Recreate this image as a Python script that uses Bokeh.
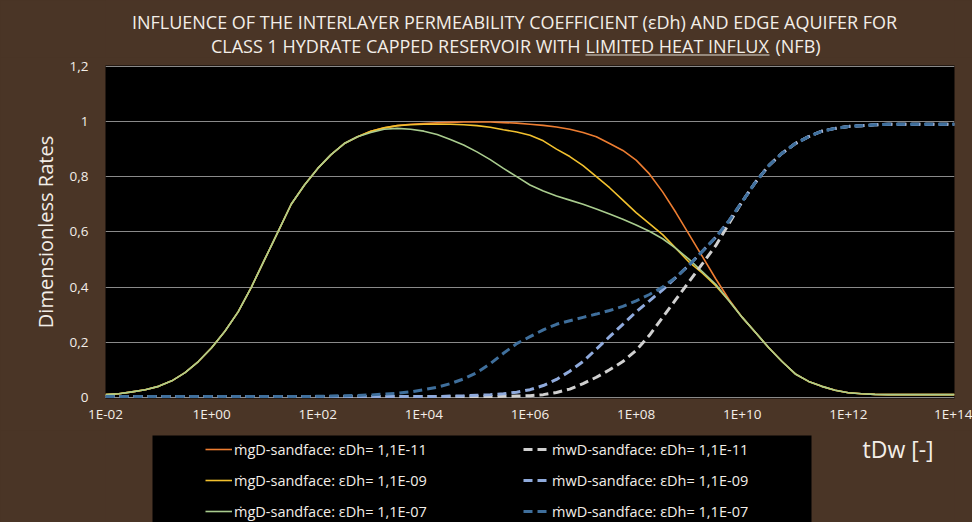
from bokeh.plotting import figure
from bokeh.layouts import column
from bokeh.models import (FixedTicker, Label, Legend, LegendItem, BoxAnnotation, Range1d)
from bokeh.embed import file_html
from bokeh.resources import INLINE

FONT = "Open Sans"
TXT = "#F3EEE8"
WOOD = "#4A3526"
W = 972
LEFT, RIGHT = 105, 954          # plot-area edges shared by all three strips

# ---------------- data (quarter-decade steps) ----------------
TDW = [1e-2, 1.78e-2, 3.16e-2, 5.62e-2,
       1e-1, 1.78e-1, 3.16e-1, 5.62e-1,
       1e0, 1.78e0, 3.16e0, 5.62e0,
       1e1, 1.78e1, 3.16e1, 5.62e1,
       1e2, 1.78e2, 3.16e2, 5.62e2,
       1e3, 1.78e3, 3.16e3, 5.62e3,
       1e4, 1.78e4, 3.16e4, 5.62e4,
       1e5, 1.78e5, 3.16e5, 5.62e5,
       1e6, 1.78e6, 3.16e6, 5.62e6,
       1e7, 1.78e7, 3.16e7, 5.62e7,
       1e8, 1.78e8, 3.16e8, 5.62e8,
       1e9, 1.78e9, 3.16e9, 5.62e9,
       1e10, 1.78e10, 3.16e10, 5.62e10,
       1e11, 1.78e11, 3.16e11, 5.62e11,
       1e12, 1.78e12, 3.16e12, 5.62e12,
       1e13, 1.78e13, 3.16e13, 5.62e13,
       1e14]

GAS_E11 = [0.01, 0.013, 0.02, 0.028,
           0.04, 0.06, 0.09, 0.13,
           0.18, 0.24, 0.31, 0.40,
           0.50, 0.60, 0.70, 0.77,
           0.83, 0.88, 0.92, 0.945,
           0.965, 0.977, 0.985, 0.99,
           0.993, 0.995, 0.997, 0.998,
           0.998, 0.998, 0.996, 0.994,
           0.99, 0.986, 0.98, 0.972,
           0.96, 0.945, 0.92, 0.895,
           0.86, 0.81, 0.745, 0.67,
           0.59, 0.51, 0.43, 0.355,
           0.29, 0.235, 0.18, 0.13,
           0.085, 0.058, 0.04, 0.026,
           0.017, 0.013, 0.011, 0.01,
           0.01, 0.01, 0.01, 0.01,
           0.01]
GAS_E09 = [0.01, 0.013, 0.02, 0.028,
           0.04, 0.06, 0.09, 0.13,
           0.18, 0.24, 0.31, 0.40,
           0.50, 0.60, 0.70, 0.77,
           0.83, 0.88, 0.92, 0.945,
           0.965, 0.977, 0.985, 0.988,
           0.99, 0.99, 0.99, 0.988,
           0.985, 0.979, 0.97, 0.962,
           0.95, 0.93, 0.90, 0.873,
           0.84, 0.80, 0.76, 0.715,
           0.67, 0.63, 0.59, 0.54,
           0.49, 0.45, 0.405, 0.35,
           0.29, 0.235, 0.18, 0.13,
           0.085, 0.058, 0.04, 0.026,
           0.017, 0.013, 0.011, 0.01,
           0.01, 0.01, 0.01, 0.01,
           0.01]
GAS_E07 = [0.01, 0.013, 0.02, 0.028,
           0.04, 0.06, 0.09, 0.13,
           0.18, 0.24, 0.31, 0.40,
           0.50, 0.60, 0.70, 0.77,
           0.83, 0.88, 0.92, 0.945,
           0.96, 0.972, 0.975, 0.972,
           0.965, 0.953, 0.935, 0.915,
           0.89, 0.862, 0.83, 0.80,
           0.77, 0.748, 0.73, 0.715,
           0.70, 0.683, 0.665, 0.646,
           0.625, 0.602, 0.575, 0.54,
           0.50, 0.455, 0.41, 0.35,
           0.29, 0.235, 0.18, 0.13,
           0.085, 0.058, 0.04, 0.026,
           0.017, 0.013, 0.011, 0.01,
           0.01, 0.01, 0.01, 0.01,
           0.01]
WAT_E11 = [0.003, 0.003, 0.003, 0.003,
           0.003, 0.003, 0.003, 0.003,
           0.003, 0.003, 0.003, 0.003,
           0.003, 0.003, 0.003, 0.003,
           0.003, 0.003, 0.003, 0.003,
           0.003, 0.003, 0.003, 0.003,
           0.003, 0.003, 0.003, 0.003,
           0.003, 0.003, 0.004, 0.005,
           0.006, 0.01, 0.018, 0.03,
           0.05, 0.073, 0.10, 0.13,
           0.17, 0.225, 0.29, 0.355,
           0.42, 0.485, 0.55, 0.63,
           0.71, 0.78, 0.84, 0.885,
           0.92, 0.945, 0.965, 0.975,
           0.982, 0.985, 0.988, 0.99,
           0.99, 0.99, 0.99, 0.99,
           0.99]
WAT_E09 = [0.003, 0.003, 0.003, 0.003,
           0.003, 0.003, 0.003, 0.003,
           0.003, 0.003, 0.003, 0.003,
           0.003, 0.003, 0.003, 0.003,
           0.003, 0.003, 0.003, 0.003,
           0.003, 0.003, 0.003, 0.003,
           0.003, 0.003, 0.005, 0.006,
           0.008, 0.01, 0.013, 0.019,
           0.028, 0.043, 0.065, 0.095,
           0.13, 0.175, 0.22, 0.265,
           0.31, 0.35, 0.39, 0.435,
           0.48, 0.53, 0.58, 0.64,
           0.71, 0.78, 0.84, 0.885,
           0.92, 0.945, 0.965, 0.975,
           0.982, 0.985, 0.988, 0.99,
           0.99, 0.99, 0.99, 0.99,
           0.99]
WAT_E07 = [0.003, 0.003, 0.003, 0.003,
           0.003, 0.003, 0.003, 0.003,
           0.003, 0.003, 0.003, 0.003,
           0.003, 0.003, 0.003, 0.003,
           0.004, 0.005, 0.006, 0.007,
           0.009, 0.012, 0.015, 0.02,
           0.028, 0.037, 0.05, 0.067,
           0.09, 0.122, 0.16, 0.195,
           0.22, 0.245, 0.265, 0.278,
           0.29, 0.302, 0.315, 0.33,
           0.35, 0.373, 0.40, 0.435,
           0.48, 0.53, 0.58, 0.64,
           0.71, 0.78, 0.84, 0.885,
           0.92, 0.945, 0.965, 0.975,
           0.982, 0.985, 0.988, 0.99,
           0.99, 0.99, 0.99, 0.99,
           0.99]

X_TICKS = [1e-2, 1e0, 1e2, 1e4, 1e6, 1e8, 1e10, 1e12, 1e14]
X_LABELS = ["1E-02", "1E+00", "1E+02", "1E+04", "1E+06", "1E+08", "1E+10", "1E+12", "1E+14"]
Y_TICKS = [0, 0.2, 0.4, 0.6, 0.8, 1.0, 1.2]
Y_LABELS = ["0", "0,2", "0,4", "0,6", "0,8", "1", "1,2"]

GAS_LABELS = ["ṁgD-sandface: εDh= 1,1E-11", "ṁgD-sandface: εDh= 1,1E-09", "ṁgD-sandface: εDh= 1,1E-07"]
WAT_LABELS = ["ṁwD-sandface: εDh= 1,1E-11", "ṁwD-sandface: εDh= 1,1E-09", "ṁwD-sandface: εDh= 1,1E-07"]
GAS_COLORS = ["#ED7D31", "#F2C12E", "#A9CC8E"]
WAT_COLORS = ["#D0D0D0", "#8FAADC", "#3F6F9C"]

TITLE_1 = "INFLUENCE OF THE INTERLAYER PERMEABILITY COEFFICIENT (εDh) AND EDGE AQUIFER FOR"
TITLE_2A = "CLASS 1 HYDRATE CAPPED RESERVOIR WITH"
TITLE_2B = "LIMITED HEAT INFLUX"
TITLE_2C = "(NFB)"
X_TITLE = "tDw [-]"
Y_TITLE = "Dimensionless Rates"
NAN = float("nan")


def blank_fig(h):
    f = figure(width=W, height=h, output_backend="svg", toolbar_location=None,
               x_range=Range1d(LEFT, RIGHT), y_range=Range1d(0, h),
               x_axis_location=None, y_axis_location=None,
               min_border_left=LEFT, min_border_right=W - RIGHT,
               min_border_top=0, min_border_bottom=0,
               background_fill_color=WOOD, border_fill_color=WOOD,
               outline_line_color=None)
    f.grid.visible = False
    return f


def lab(f, text, x, y, size, align="center"):
    f.add_layout(Label(text=text, x=x, y=y, text_font=FONT, text_font_size=size,
                       text_color=TXT, text_align=align, text_baseline="middle"))


# ---------------- title strip (page y 0..57) ----------------
TH = 57
top = blank_fig(TH)
lab(top, TITLE_1, 514, TH - 21, "18px")
lab(top, TITLE_2A, 580, TH - 45, "18px", "right")
lab(top, TITLE_2B, 585, TH - 45, "18px", "left")
lab(top, TITLE_2C, 775, TH - 45, "18px", "left")
top.add_layout(BoxAnnotation(left=585, right=769, bottom=TH - 55, top=TH - 54,
                             fill_color=TXT, fill_alpha=0.9, line_color=None))

# ---------------- main chart (page y 57..430) ----------------
p = figure(width=W, height=373, output_backend="svg", toolbar_location=None,
           x_axis_type="log", x_range=Range1d(1e-2, 1e14), y_range=Range1d(-0.004, 1.203),
           min_border_left=LEFT, min_border_right=W - RIGHT, min_border_top=8, min_border_bottom=32,
           background_fill_color="black", border_fill_color=WOOD, outline_line_color=None)

p.xaxis.ticker = FixedTicker(ticks=X_TICKS)
p.xaxis.major_label_overrides = dict(zip(X_TICKS, X_LABELS))
p.yaxis.ticker = FixedTicker(ticks=Y_TICKS)
p.yaxis.major_label_overrides = dict(zip(Y_TICKS, Y_LABELS))
for ax in (p.xaxis, p.yaxis):
    ax.axis_line_color = None
    ax.major_tick_line_color = None
    ax.minor_tick_line_color = None
    ax.major_tick_out = 0
    ax.major_tick_in = 0
    ax.major_label_text_color = TXT
    ax.major_label_text_font = FONT
    ax.major_label_text_font_size = "13.5px"
p.xaxis.major_label_standoff = 6
p.yaxis.major_label_standoff = 17
p.yaxis.axis_label = Y_TITLE
p.yaxis.axis_label_text_font = FONT
p.yaxis.axis_label_text_font_size = "20px"
p.yaxis.axis_label_text_font_style = "normal"
p.yaxis.axis_label_text_color = TXT
p.yaxis.axis_label_standoff = 8

p.xgrid.grid_line_color = None
p.ygrid.ticker = FixedTicker(ticks=Y_TICKS)
p.ygrid.grid_line_color = "#8A8A8A"
p.ygrid.grid_line_width = 1

for ys, c in zip([GAS_E11, GAS_E09, GAS_E07], GAS_COLORS):
    p.line(TDW, ys, line_color=c, line_width=1.6)
for ys, c in zip([WAT_E11, WAT_E09, WAT_E07], WAT_COLORS):
    p.line(TDW, ys, line_color=c, line_width=3, line_dash="9 5")

# ---------------- legend strip (page y 430..522) ----------------
BH = 92
bot = blank_fig(BH)
bot.add_layout(BoxAnnotation(left=152, right=811, bottom=0, top=BH - 5,
                             fill_color="black", fill_alpha=1, line_color=None))
# legend proxies (no visible data; they only carry the line styles)
gas_proxy = [bot.line(x=[NAN], y=[NAN], line_color=c, line_width=1.6) for c in GAS_COLORS]
wat_proxy = [bot.line(x=[NAN], y=[NAN], line_color=c, line_width=3, line_dash="9 5")
             for c in WAT_COLORS]


def make_legend(renderers, labels, loc):
    return Legend(items=[LegendItem(label=l, renderers=[r]) for l, r in zip(labels, renderers)],
                  location=loc, orientation="vertical", padding=0, margin=0, spacing=11,
                  glyph_width=27, glyph_height=20, label_height=20, label_standoff=2,
                  label_text_font=FONT, label_text_font_size="14.5px", label_text_color=TXT,
                  background_fill_alpha=0, border_line_alpha=0)


bot.add_layout(make_legend(gas_proxy, GAS_LABELS, (205 - LEFT, 1)))
bot.add_layout(make_legend(wat_proxy, WAT_LABELS, (523 - LEFT, 1)))
lab(bot, X_TITLE, 862, BH - 18, "23px", "left")

layout = column(top, p, bot, spacing=0, styles={"background-color": WOOD})
open("out.html", "w").write(file_html(layout, INLINE))
